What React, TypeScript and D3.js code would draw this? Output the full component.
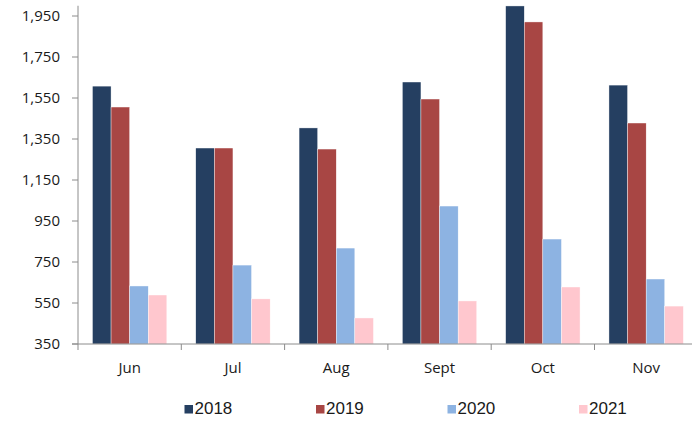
import React from "react";
import * as d3 from "d3";

const months = ["Jun", "Jul", "Aug", "Sept", "Oct", "Nov"];
const seriesNames = ["2018", "2019", "2020", "2021"];
const values2018 = [1608, 1306, 1404, 1628, 1999, 1613];
const values2019 = [1506, 1306, 1301, 1545, 1921, 1428];
const values2020 = [633, 735, 818, 1023, 862, 667];
const values2021 = [589, 570, 477, 560, 628, 535];
const seriesColors = ["#253F61", "#A84644", "#8DB3E2", "#FFC7CE"];
const yTicks = [350, 550, 750, 950, 1150, 1350, 1550, 1750, 1950];

const W = 692;
const H = 425;

export default function App() {
  const allValues = [values2018, values2019, values2020, values2021];
  const plotLeft = 78;
  const bandW = 103.3;
  const plotRight = plotLeft + bandW * months.length;
  const y = d3.scaleLinear().domain([350, 1950]).range([344, 16]);
  const x0 = d3.scaleBand().domain(months).range([plotLeft, plotRight]).paddingInner(0).paddingOuter(0);
  const groupW = x0.bandwidth() * 0.72;
  const x1 = d3.scaleBand().domain(seriesNames).range([0, groupW]).padding(0);
  const fmt = d3.format(",");
  const axisColor = "#8C8C8C";
  const legendTextX = [194.5, 326, 457.5, 589];

  return (
    <svg width={W} height={H} style={{ position: "absolute", left: 0, top: 0, background: "#fff" }}>
      {/* bars */}
      {months.map((m, i) => (
        <g key={m} transform={`translate(${(x0(m) as number) + (x0.bandwidth() - groupW) / 2},0)`}>
          {seriesNames.map((s, j) => {
            const v = allValues[j][i];
            return (
              <rect
                key={s}
                x={x1(s) as number}
                y={y(v)}
                width={x1.bandwidth()}
                height={y(350) - y(v)}
                fill={seriesColors[j]}
                stroke="#ffffff"
                strokeWidth={0.4}
              />
            );
          })}
        </g>
      ))}
      {/* y axis */}
      <line x1={plotLeft} x2={plotLeft} y1={y(2000)} y2={y(350)} stroke={axisColor} strokeWidth={1} />
      {yTicks.map((t) => (
        <g key={t}>
          <line x1={plotLeft - 6} x2={plotLeft} y1={y(t)} y2={y(t)} stroke={axisColor} strokeWidth={1} />
          <text
            x={60}
            y={y(t)}
            dy="0.35em"
            textAnchor="end"
            fontFamily="'Open Sans', 'Noto Sans', sans-serif"
            fontSize={15}
            fill="#1a1a1a"
          >
            {fmt(t)}
          </text>
        </g>
      ))}
      {/* x axis */}
      <line x1={plotLeft - 6} x2={plotRight} y1={y(350)} y2={y(350)} stroke={axisColor} strokeWidth={1} />
      {months.map((m) => (
        <line
          key={"t" + m}
          x1={x0(m) as number}
          x2={x0(m) as number}
          y1={y(350)}
          y2={y(350) + 6}
          stroke={axisColor}
          strokeWidth={1}
        />
      ))}
      {months.map((m) => (
        <text
          key={"l" + m}
          x={(x0(m) as number) + x0.bandwidth() / 2}
          y={368}
          dy="0.35em"
          textAnchor="middle"
          fontFamily="'Open Sans', 'Noto Sans', sans-serif"
          fontSize={15}
          fill="#1a1a1a"
        >
          {m}
        </text>
      ))}
      {/* legend */}
      {seriesNames.map((s, j) => (
        <g key={"lg" + s}>
          <rect x={legendTextX[j] - 10} y={405} width={8.5} height={8.5} fill={seriesColors[j]} />
          <text
            x={legendTextX[j]}
            y={414}
            fontFamily="'Liberation Sans', Arial, sans-serif"
            fontSize={17}
            fill="#1a1a1a"
          >
            {s}
          </text>
        </g>
      ))}
    </svg>
  );
}
